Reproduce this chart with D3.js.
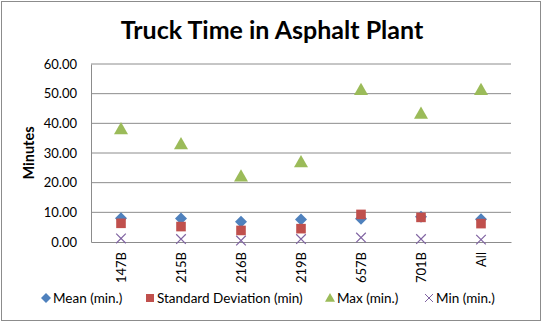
<!DOCTYPE html>
<html>
<head>
<meta charset="utf-8">
<script src="https://cdn.jsdelivr.net/npm/d3@7"></script>
<style>
  body { margin: 0; background: #fff; }
  svg { display: block; font-family: "Lato", "Liberation Sans", sans-serif; }
</style>
</head>
<body>
<svg id="drawing_region"></svg>
<script>
const categories = [ "147B", "215B", "216B", "219B", "657B", "701B", "All" ];
const meanValues = [ 8.0, 7.9, 6.8, 7.6, 7.8, 8.5, 7.7 ];
const sdValues   = [ 6.3, 5.2, 3.9, 4.5, 9.3, 8.3, 6.2 ];
const maxValues  = [ 38.1, 33.0, 22.2, 27.0, 51.3, 43.3, 51.3 ];
const minValues  = [ 1.2, 1.0, 0.5, 1.0, 1.5, 1.0, 0.8 ];
const yTicks = [ 0, 10, 20, 30, 40, 50, 60 ];

const series = [
    { name: "Mean (min.)", values: meanValues, color: "#4F81BD", shape: "diamond" },
    { name: "Standard Deviation (min)", values: sdValues, color: "#C0504D", shape: "square" },
    { name: "Max (min.)", values: maxValues, color: "#9BBB59", shape: "triangle" },
    { name: "Min (min.)", values: minValues, color: "#8064A2", shape: "cross" }
];

const config = {
    width: 543,
    height: 322,
    margin: { top: 64, right: 32, bottom: 80, left: 91 }
};

// marker paths, r = half width
function markerPath( shape, r ) {
    if ( shape === "diamond" ) return `M0,${-r}L${r},0L0,${r}L${-r},0Z`;
    if ( shape === "square" ) { const h = r * 0.8; return `M${-h},${-h}H${h}V${h}H${-h}Z`; }
    if ( shape === "triangle" ) return `M0,${-r}L${r},${r * 0.75}L${-r},${r * 0.75}Z`;
    const c = r * 0.8;
    return `M${-c},${-c}L${c},${c}M${-c},${c}L${c},${-c}`;
}

const svg = d3.select( "#drawing_region" )
    .attr( "width", config.width )
    .attr( "height", config.height );

// outer chart border
svg.append( "rect" )
    .attr( "x", 1.5 ).attr( "y", 1.5 )
    .attr( "width", config.width - 4 ).attr( "height", config.height - 3 )
    .attr( "fill", "none" )
    .attr( "stroke", "#8c8c8c" );

const inner_width = config.width - config.margin.left - config.margin.right;
const inner_height = config.height - config.margin.top - config.margin.bottom;

const chart = svg.append( "g" )
    .attr( "transform", `translate(${config.margin.left}, ${config.margin.top})` );

const xscale = d3.scaleBand()
    .domain( categories )
    .range( [ 0, inner_width ] );

const yscale = d3.scaleLinear()
    .domain( [ 0, 60 ] )
    .range( [ inner_height, 0 ] );

// gridlines
chart.append( "g" )
    .selectAll( "line" )
    .data( yTicks.filter( d => d > 0 ) )
    .join( "line" )
    .attr( "x1", 0 ).attr( "x2", inner_width )
    .attr( "y1", d => yscale( d ) ).attr( "y2", d => yscale( d ) )
    .attr( "stroke", "#8c8c8c" )
    .attr( "stroke-width", 1 );

// y axis
const yaxis = d3.axisLeft( yscale )
    .tickValues( yTicks )
    .tickFormat( d3.format( ".2f" ) )
    .tickSize( 0 )
    .tickPadding( 14 );

const yaxis_group = chart.append( "g" ).call( yaxis );
yaxis_group.select( ".domain" ).attr( "stroke", "#8c8c8c" );
yaxis_group.selectAll( "text" )
    .attr( "font-size", 13 )
    .attr( "fill", "#000" )
    .attr( "font-family", "Lato, sans-serif" );

// x axis
const xaxis = d3.axisBottom( xscale )
    .tickSize( 0 )
    .tickSizeOuter( 0 );

const xaxis_group = chart.append( "g" )
    .attr( "transform", `translate(0, ${inner_height})` )
    .call( xaxis );
xaxis_group.select( ".domain" ).attr( "stroke", "#8c8c8c" );
xaxis_group.selectAll( "text" )
    .attr( "font-size", 13 )
    .attr( "font-family", "Lato, sans-serif" )
    .attr( "fill", "#000" )
    .attr( "transform", "rotate(-90)" )
    .attr( "text-anchor", "end" )
    .attr( "x", -10 )
    .attr( "y", 0 )
    .attr( "dy", "0.35em" );

// markers
series.forEach( s => {
    chart.append( "g" )
        .selectAll( "path" )
        .data( s.values )
        .join( "path" )
        .attr( "transform", ( d, i ) => `translate(${xscale( categories[i] ) + xscale.bandwidth() / 2}, ${yscale( d )})` )
        .attr( "d", markerPath( s.shape, s.shape === "triangle" ? 7 : 6 ) )
        .attr( "fill", s.shape === "cross" ? "none" : s.color )
        .attr( "stroke", s.shape === "cross" ? s.color : "none" )
        .attr( "stroke-width", 1.2 );
} );

// title
svg.append( "text" )
    .attr( "x", 272 ).attr( "y", 39 )
    .attr( "text-anchor", "middle" )
    .attr( "font-size", 25 )
    .attr( "font-weight", "bold" )
    .text( "Truck Time in Asphalt Plant" );

// y axis title
svg.append( "text" )
    .attr( "transform", `translate(34, ${config.margin.top + inner_height / 2}) rotate(-90)` )
    .attr( "text-anchor", "middle" )
    .attr( "font-size", 14.5 )
    .attr( "font-weight", "bold" )
    .text( "Minutes" );

// legend
const legendX = [ 46, 150, 330, 429 ];
const legend = svg.append( "g" ).attr( "transform", "translate(0, 298)" );
series.forEach( ( s, i ) => {
    const g = legend.append( "g" ).attr( "transform", `translate(${legendX[i]}, 0)` );
    g.append( "path" )
        .attr( "d", markerPath( s.shape, 5 ) )
        .attr( "fill", s.shape === "cross" ? "none" : s.color )
        .attr( "stroke", s.shape === "cross" ? s.color : "none" );
    g.append( "text" )
        .attr( "x", 7 )
        .attr( "dy", "0.35em" )
        .attr( "font-size", 13.5 )
        .text( s.name );
} );
</script>
</body>
</html>
